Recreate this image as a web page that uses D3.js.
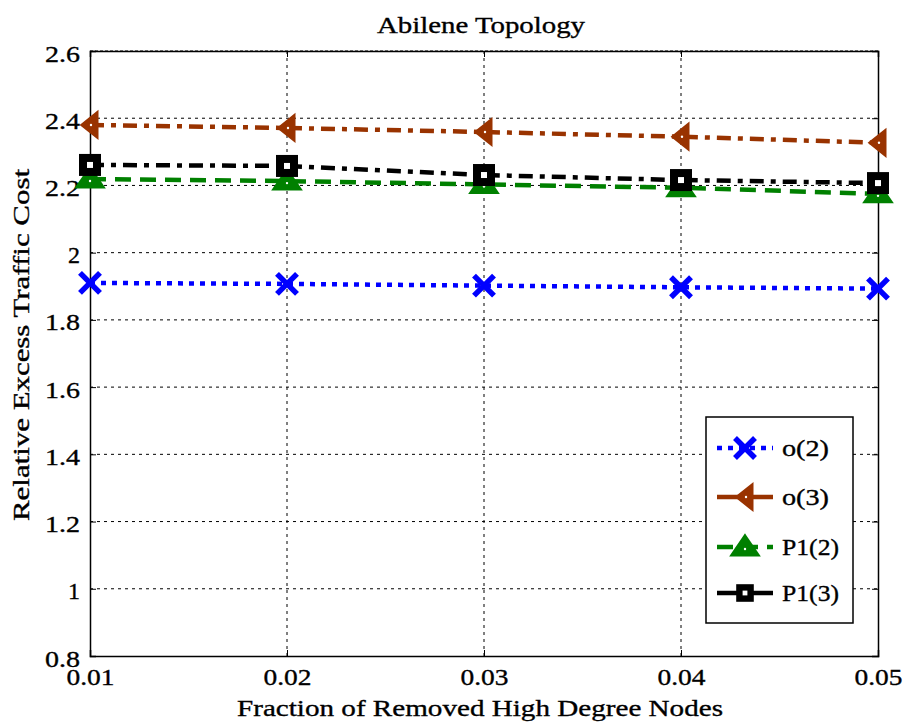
<!DOCTYPE html>
<html><head><meta charset="utf-8">
<script src="https://cdn.jsdelivr.net/npm/d3@7"></script>
<style>body{margin:0;background:#fff}svg{display:block}text{font-family:"Liberation Serif","Times New Roman",serif;fill:#000;stroke:#000;stroke-width:0.35px}</style>
</head><body><svg id="c" width="904" height="722"></svg>
<script>
const xValues = [0.01, 0.02, 0.03, 0.04, 0.05];
const o2 = [1.910, 1.907, 1.902, 1.897, 1.893];
const o3 = [2.380, 2.371, 2.359, 2.345, 2.327];
const p12 = [2.219, 2.213, 2.203, 2.193, 2.175];
const p13 = [2.261, 2.258, 2.231, 2.216, 2.207];
const seriesNames = ["o(2)", "o(3)", "P1(2)", "P1(3)"];
const xTicks = [0.01, 0.02, 0.03, 0.04, 0.05];
const yTicks = [0.8, 1, 1.2, 1.4, 1.6, 1.8, 2, 2.2, 2.4, 2.6];
const title = "Abilene Topology";
const xLabel = "Fraction of Removed High Degree Nodes";
const yLabel = "Relative Excess Traffic Cost";

const svg = d3.select("#c");
const L = 90, R = 878, T = 51, B = 656;
const x = d3.scaleLinear().domain([0.01, 0.05]).range([L, R]);
const y = d3.scaleLinear().domain([0.8, 2.6]).range([B, T]);

// grid
const g = svg.append("g");
g.selectAll(".gx").data(xTicks.slice(1, -1)).join("line")
  .attr("x1", d => x(d)).attr("x2", d => x(d)).attr("y1", T).attr("y2", B)
  .attr("stroke", "#000").attr("stroke-width", 1).attr("stroke-dasharray", "3,4");
g.selectAll(".gy").data(yTicks.slice(1, -1)).join("line")
  .attr("y1", d => y(d)).attr("y2", d => y(d)).attr("x1", L).attr("x2", R)
  .attr("stroke", "#000").attr("stroke-width", 1).attr("stroke-dasharray", "3,4");
g.append("line").attr("x1", L).attr("x2", R).attr("y1", T).attr("y2", T)
  .attr("stroke", "#000").attr("stroke-width", 1).attr("stroke-dasharray", "3,2");

// axes
const xAxis = svg.append("g").attr("transform", `translate(0,${B})`)
  .call(d3.axisBottom(x).tickValues(xTicks).tickSize(-6).tickPadding(12).tickFormat(d3.format(".2f")));
const yAxis = svg.append("g").attr("transform", `translate(${L},0)`)
  .call(d3.axisLeft(y).tickValues(yTicks).tickSize(-6).tickPadding(10).tickFormat(d => d3.format("")(+d.toFixed(1))));
svg.append("g").attr("transform", `translate(${R},0)`)
  .call(d3.axisRight(y).tickValues(yTicks).tickSize(-6).tickFormat(""));
svg.append("g").attr("transform", `translate(0,${T})`)
  .call(d3.axisTop(x).tickValues(xTicks).tickSize(-6).tickFormat(""));
svg.selectAll(".domain").attr("stroke", "#000").attr("stroke-width", 1.5);
svg.selectAll(".tick line").attr("stroke", "#000");
xAxis.selectAll("text").attr("font-size", 24).attr("font-family", "Liberation Serif")
  .attr("dy", "0.7em").attr("textLength", 48).attr("lengthAdjust", "spacingAndGlyphs");
yAxis.selectAll("text").attr("font-size", 24).attr("font-family", "Liberation Serif")
  .attr("dy", "0.42em")
  .each(function(d){ const s = this.textContent; d3.select(this).attr("textLength", s.length === 1 ? 12 : 35).attr("lengthAdjust", "spacingAndGlyphs"); });

// series
const lineGen = d3.line().x((d, i) => x(xValues[i])).y(d => y(d));
const series = [
  {name: seriesNames[0], vals: o2, color: "#0000ff", dash: "5,6", marker: "x"},
  {name: seriesNames[1], vals: o3, color: "#993300", dash: "14,7,5,7", marker: "tl"},
  {name: seriesNames[2], vals: p12, color: "#008000", dash: "16,9", marker: "tu"},
  {name: seriesNames[3], vals: p13, color: "#000000", dash: "14,7,5,7", marker: "sq"}
];
function drawMarker(sel, type, color, k) {
  k = k || 1;
  if (type === "x") {
    sel.append("path").attr("d", `M${-10*k},${-10*k}L${10*k},${10*k}M${-10*k},${10*k}L${10*k},${-10*k}`).attr("stroke", color).attr("stroke-width", 5.5).attr("fill", "none");
  } else if (type === "tl") {
    sel.append("path").attr("d", `M${7*k},${-12*k}L${7*k},${12*k}L${-8*k},0Z`).attr("stroke", color).attr("stroke-width", 3).attr("fill", color);
    sel.append("circle").attr("r", 1.2).attr("cx", 1).attr("fill", "#fff");
  } else if (type === "tu") {
    sel.append("path").attr("d", `M0,${-11*k}L${13*k},${8*k}L${-13*k},${8*k}Z`).attr("stroke", color).attr("stroke-width", 3).attr("fill", color);
    sel.append("circle").attr("r", 1.2).attr("cy", 2).attr("fill", "#fff");
  } else if (type === "sq") {
    sel.append("rect").attr("x", -7*k).attr("y", -7*k).attr("width", 14*k).attr("height", 14*k).attr("stroke", color).attr("stroke-width", 8*k).attr("fill", "#fff");
  }
}
const plot = svg.append("g");
series.forEach(s => {
  plot.append("path").datum(s.vals).attr("d", lineGen).attr("fill", "none")
    .attr("stroke", s.color).attr("stroke-width", 4.5).attr("stroke-dasharray", s.dash);
  s.vals.forEach((v, i) => {
    const m = plot.append("g").attr("transform", `translate(${x(xValues[i])},${y(v)})`);
    drawMarker(m, s.marker, s.color);
  });
});

// legend
const lg = svg.append("g");
lg.append("rect").attr("x", 706).attr("y", 417).attr("width", 147).attr("height", 206)
  .attr("fill", "#fff").attr("stroke", "#000").attr("stroke-width", 1.5);
const legY = [448, 497, 547, 593];
const legDash = ["5,6", null, "16,9", null];
series.forEach((s, i) => {
  const yy = legY[i];
  lg.append("line").attr("x1", 717).attr("x2", 773).attr("y1", yy).attr("y2", yy)
    .attr("stroke", s.color).attr("stroke-width", 4.5).attr("stroke-dasharray", legDash[i]);
  drawMarker(lg.append("g").attr("transform", `translate(745,${yy})`), s.marker, s.color, s.marker === "sq" ? 0.8 : 1);
  lg.append("text").attr("x", 782).attr("y", yy).attr("dy", "0.35em").attr("font-size", 24)
    .attr("textLength", s.name.length === 4 ? 47 : 57).attr("lengthAdjust", "spacingAndGlyphs").text(s.name);
});

// titles
svg.append("text").attr("x", 481).attr("y", 33).attr("text-anchor", "middle").attr("font-size", 24)
  .attr("textLength", 208).attr("lengthAdjust", "spacingAndGlyphs").text(title);
svg.append("text").attr("x", 480).attr("y", 716).attr("text-anchor", "middle").attr("font-size", 24)
  .attr("textLength", 486).attr("lengthAdjust", "spacingAndGlyphs").text(xLabel);
svg.append("text").attr("transform", "translate(29,345) rotate(-90)").attr("text-anchor", "middle").attr("font-size", 24)
  .attr("textLength", 352).attr("lengthAdjust", "spacingAndGlyphs").text(yLabel);
</script></body></html>
